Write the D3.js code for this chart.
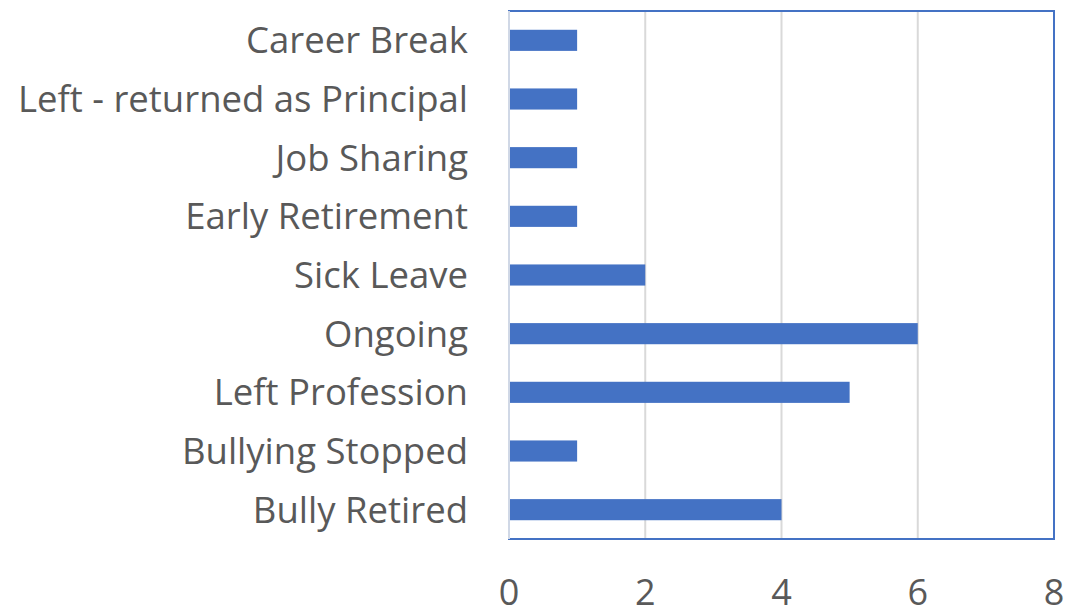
<!DOCTYPE html>
<html lang="en">
  <head>
    <meta charset="utf-8" />
    <title>Bar chart</title>
    <script src="https://cdnjs.cloudflare.com/ajax/libs/d3/7.8.5/d3.min.js"></script>
    <style>
      body { margin: 0; background: #fff; }
      text { font-family: "Open Sans", Lato, sans-serif; fill: #595959; }
    </style>
  </head>
  <body>
    <script>
      const categories = [
        "Career Break",
        "Left - returned as Principal",
        "Job Sharing",
        "Early Retirement",
        "Sick Leave",
        "Ongoing",
        "Left Profession",
        "Bullying Stopped",
        "Bully Retired"
      ];
      const values = [1, 1, 1, 1, 2, 6, 5, 1, 4];
      const xTicks = [0, 2, 4, 6, 8];

      const width = 1069;
      const height = 610;
      const marginTop = 11;
      const marginRight = 15;
      const marginBottom = 71;
      const marginLeft = 509;

      const data = categories.map((c, i) => ({ name: c, value: values[i] }));

      const x = d3.scaleLinear([0, 8], [marginLeft, width - marginRight]);
      const y = d3.scaleBand(categories, [marginTop, height - marginBottom])
        .paddingInner(0.64)
        .paddingOuter(0.32);

      const svg = d3.select("body").append("svg")
        .attr("width", width)
        .attr("height", height)
        .attr("viewBox", [0, 0, width, height]);

      // grid lines
      svg.append("g")
        .selectAll("line")
        .data(xTicks)
        .join("line")
        .attr("x1", d => x(d))
        .attr("x2", d => x(d))
        .attr("y1", marginTop)
        .attr("y2", height - marginBottom)
        .attr("stroke", "#d9d9d9")
        .attr("stroke-width", 2);

      // bars
      svg.append("g")
        .attr("fill", "#4472c4")
        .selectAll("rect")
        .data(data)
        .join("rect")
        .attr("x", x(0) + 1)
        .attr("y", d => y(d.name))
        .attr("width", d => x(d.value) - x(0) - 1)
        .attr("height", y.bandwidth());

      // plot border
      svg.append("rect")
        .attr("x", marginLeft)
        .attr("y", marginTop)
        .attr("width", width - marginLeft - marginRight)
        .attr("height", height - marginTop - marginBottom)
        .attr("fill", "none")
        .attr("stroke", "#4472c4")
        .attr("stroke-width", 2);

      // zero line over the left border
      svg.append("line")
        .attr("x1", x(0)).attr("x2", x(0))
        .attr("y1", marginTop).attr("y2", height - marginBottom)
        .attr("stroke", "#d0d8e6")
        .attr("stroke-width", 2);

      // category axis
      svg.append("g")
        .attr("transform", `translate(${marginLeft - 41},0)`)
        .selectAll("text")
        .data(categories)
        .join("text")
        .attr("y", d => y(d) + y.bandwidth() / 2)
        .attr("dy", "0.36em")
        .attr("text-anchor", "end")
        .attr("font-size", 36.5)
        .text(d => d);

      // value axis
      svg.append("g")
        .selectAll("text")
        .data(xTicks)
        .join("text")
        .attr("x", d => x(d))
        .attr("y", 605)
        .attr("text-anchor", "middle")
        .attr("font-size", 36)
        .text(d => d);
    </script>
  </body>
</html>
